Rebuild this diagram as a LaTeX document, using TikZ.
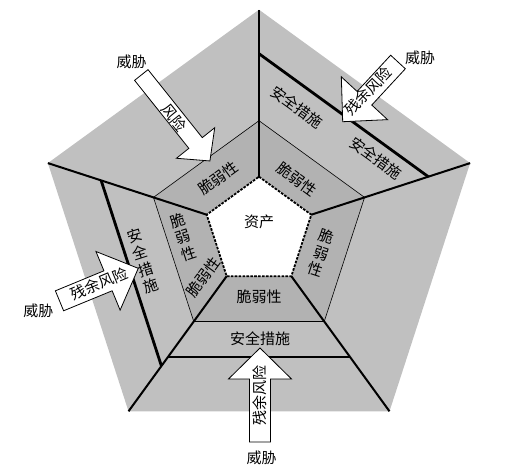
\documentclass[tikz,border=0pt]{standalone}
\usepackage{fontspec}
\setmainfont{Noto Sans CJK SC}
\usetikzlibrary{calc}
\definecolor{outergray}{RGB}{192,192,192}
\definecolor{ringgray}{RGB}{178,178,178}
\tikzset{
  lbl/.style={font=\fontsize{15}{17.5}\selectfont, inner sep=0pt, align=center},
  spoke/.style={line width=2pt},
  guardline/.style={line width=2.8pt},
  thinline/.style={line width=0.6pt},
  coreborder/.style={line width=1.8pt, dash pattern=on 2.6pt off 1.3pt},
  arrowbox/.style={draw, fill=white, line width=0.8pt, line join=miter},
}
% tail x, tail y, angle, length, shaft half width, head half width, head length
\newcommand{\blockarrow}[7]{%
  \begin{scope}[shift={(#1,#2)},rotate=#3]
    \draw[arrowbox] (0,{-#5}) -- ({#4-#7},{-#5}) -- ({#4-#7},{-#6}) -- (#4,0)
      -- ({#4-#7},{#6}) -- ({#4-#7},{#5}) -- (0,{#5}) -- cycle;
  \end{scope}}
\begin{document}
\begin{tikzpicture}[x=1pt,y=-1pt]
\useasboundingbox (0,0) rectangle (525,470);
\coordinate (C) at (259,231.7);
\foreach \i/\a in {1/90,2/18,3/-54,4/-126,5/162} {
  \coordinate (O\i) at ($(C)+(\a:222pt)$);
  \coordinate (M\i) at ($(C)+(\a:111pt)$);
  \coordinate (I\i) at ($(C)+(\a:55pt)$);
}
\coordinate (S1a) at ($(C)+(90:178pt)$);
\coordinate (S1b) at ($(C)+(18:178pt)$);
\coordinate (S2a) at ($(C)+(-54:155pt)$);
\coordinate (S2b) at ($(C)+(-126:155pt)$);
\coordinate (S3a) at ($(C)+(-126:166pt)$);
\coordinate (S3b) at ($(C)+(162:166pt)$);

\fill[outergray] (O1)--(O2)--(O3)--(O4)--(O5)--cycle;
\fill[ringgray] (M1)--(M2)--(M3)--(M4)--(M5)--cycle;
\draw[thinline] (M1)--(M2)--(M3)--(M4)--(M5)--cycle;
\fill[white] (I1)--(I2)--(I3)--(I4)--(I5)--cycle;
\foreach \i in {1,...,5} \draw[spoke] (I\i) -- (O\i);
\draw[coreborder] (I1)--(I2)--(I3)--(I4)--(I5)--cycle;
\draw[guardline] (S1a) -- (S1b);
\draw[guardline] (S2a) -- (S2b);
\draw[guardline] (S3a) -- (S3b);

% labels
\node[lbl] (asset) at (259,222) {资产};
\node[lbl, rotate=36] (v1) at (218,178) {脆弱性};
\node[lbl, rotate=-36] (v2) at (297,179) {脆弱性};
\node[lbl, rotate=-18] (v3) at (321,253) {脆\\弱\\性};
\node[lbl] (v4) at (259,297) {脆弱性};
\node[lbl, rotate=18] (v5) at (183,237) {脆\\弱\\性};
\node[lbl, rotate=54] (v6) at (203,277) {脆弱性};
\node[lbl, rotate=18] (m1) at (143,261) {安\\全\\措\\施};
\node[lbl] (m2) at (260,339) {安全措施};
\node[lbl, rotate=-36] (m3) at (297,107) {安全措施};
\node[lbl, rotate=-36] (m4) at (376,158) {安全措施};

% arrows
\blockarrow{141.3}{75}{-51.4}{110}{8.6}{24.5}{23}
\blockarrow{398}{62}{-132.8}{81.4}{10}{31.5}{32}
\blockarrow{59.5}{300.8}{22.4}{85.2}{10.8}{31.7}{32.7}
\blockarrow{260}{442}{90}{94}{10.5}{31.5}{31}

\node[lbl, rotate=-51.4] (r1) at (174,118) {风险};
\node[lbl, rotate=46] (r2) at (368,91) {残余风险};
\node[lbl, rotate=22.4] (r3) at (99,283.5) {残余风险};
\node[lbl, rotate=90] (r4) at (260,395) {残余风险};

\node[lbl] (t1) at (131.7,61.5) {威胁};
\node[lbl] (t2) at (420,58) {威胁};
\node[lbl] (t3) at (38.3,311) {威胁};
\node[lbl] (t4) at (261.7,457.5) {威胁};
\end{tikzpicture}
\end{document}
